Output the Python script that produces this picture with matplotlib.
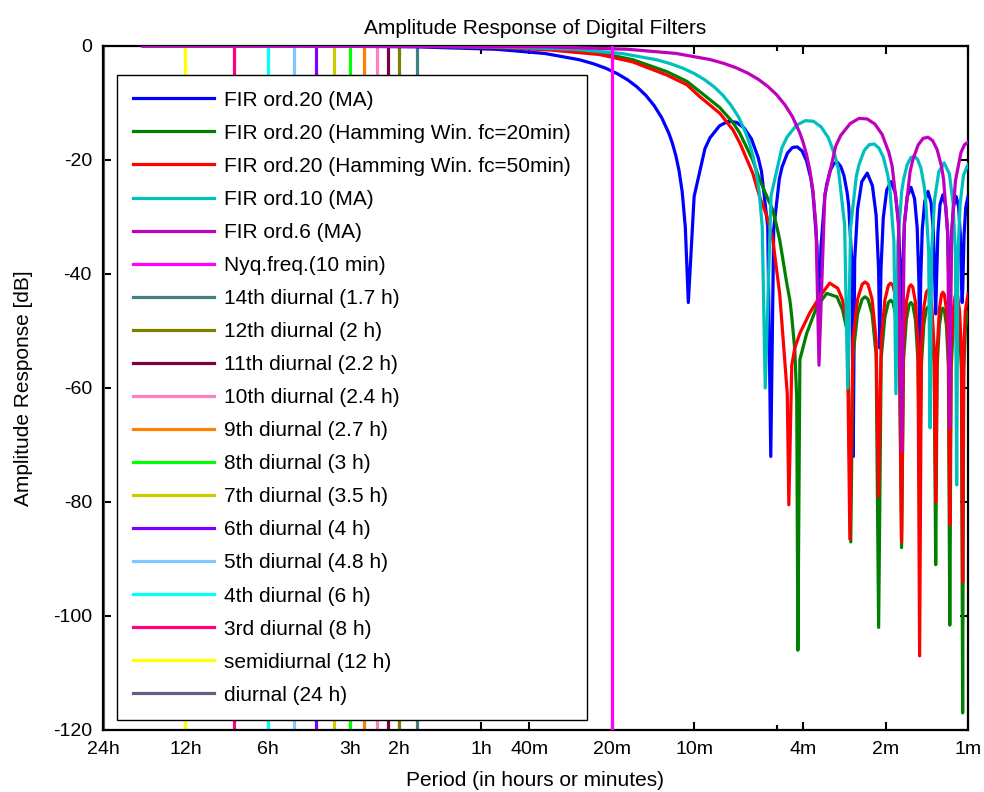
import matplotlib
matplotlib.use("Agg")
import matplotlib.pyplot as plt

plt.rcParams['font.family'] = ['Liberation Sans', 'DejaVu Sans']
plt.rcParams['axes.unicode_minus'] = False

# periods in minutes, response in dB
ma20_period = [1028, 210, 105, 52.5, 35, 26.25, 23.333, 21, 19.091, 17.5, 16.154, 15, 14.0,
               13.125, 12.353, 12.0, 11.667, 11.351, 11.053, 10.769, 10.5,
               10.0, 9.130, 8.75, 8.077, 7.5, 7.0, 6.5625, 6.176, 5.833, 5.676, 5.385, 5.25,
               5.122, 4.884, 4.773, 4.565, 4.375, 4.2, 4.038, 3.889, 3.75, 3.684, 3.559, 3.5,
               3.443, 3.333, 3.281, 3.182, 3.088, 3.0, 2.917, 2.838, 2.763, 2.727, 2.658, 2.625,
               2.593, 2.530, 2.442, 2.333, 2.234, 2.165, 2.121, 2.1,
               2.079, 2.039, 1.981, 1.909, 1.842, 1.795, 1.765, 1.75,
               1.736, 1.707, 1.667, 1.615, 1.567, 1.533, 1.511, 1.5,
               1.489, 1.469, 1.438, 1.4, 1.364, 1.338, 1.321, 1.3125,
               1.304, 1.288, 1.265, 1.235, 1.207, 1.186, 1.173, 1.1667,
               1.160, 1.148, 1.129, 1.105, 1.082, 1.066, 1.055, 1.05,
               1.045, 1.034, 1.019, 1.0]
ma20_db = [0, -0.04, -0.14, -0.58, -1.32, -2.41, -3.11, -3.91, -4.85, -5.93, -7.19, -8.67, -10.44,
           -12.6, -15.37, -17.1, -19.2, -21.87, -25.6, -31.8, -45,
           -26.4, -18.0, -16.1, -14.0, -13.2, -13.4, -14.4, -16.3, -19.6, -22.0, -31.7, -72,
           -32.1, -23.3, -21.2, -18.8, -17.8, -17.7, -18.4, -20.1, -23.2, -25.6, -35.1, -50,
           -35.4, -26.4, -24.3, -21.8, -20.6, -20.4, -21.1, -22.7, -25.7, -28.0, -37.5, -72,
           -37.6, -28.6, -23.8, -22.3, -24.5, -29.7, -39.1, -53,
           -39.3, -30.2, -25.3, -23.8, -25.8, -31.0, -40.4, -50,
           -40.5, -31.3, -26.4, -24.8, -26.8, -31.9, -41.3, -55,
           -41.3, -32.2, -27.2, -25.5, -27.5, -32.6, -41.9, -47,
           -41.9, -32.8, -27.8, -26.1, -28.0, -33.0, -42.3, -50,
           -42.3, -33.1, -28.1, -26.4, -28.2, -33.3, -42.5, -45,
           -42.5, -33.3, -28.3, -26.4]

ham20_period = [1028, 200, 78, 51.2, 33.6, 22.1, 16.74, 12.58, 10.63, 9.53, 8.06, 7.22, 6.81,
                6.11, 5.76, 5.16, 4.99, 4.87, 4.59, 4.47, 4.40, 4.29, 4.22, 4.18,
                4.11, 3.88, 3.57, 3.28, 3.01, 2.87, 2.75, 2.68,
                2.63, 2.53, 2.434, 2.375, 2.319, 2.24, 2.165, 2.12,
                2.075, 2.012, 1.953, 1.916, 1.880, 1.828, 1.779, 1.748,
                1.720, 1.679, 1.640, 1.616, 1.591, 1.556, 1.523, 1.502,
                1.480, 1.449, 1.4196, 1.401, 1.382, 1.355, 1.329, 1.312,
                1.296, 1.272, 1.2494, 1.235, 1.2201, 1.199, 1.179, 1.1655,
                1.1523, 1.133, 1.1146, 1.1025, 1.0908, 1.0734, 1.0569, 1.046,
                1.0365, 1.0225, 1.0]
ham20_db = [0, -0.02, -0.08, -0.2, -0.5, -1.2, -2.4, -4.5, -6.2, -8.0, -10.8, -13.4, -15.3,
            -20.0, -23.5, -28.8, -31.7, -34.0, -41.6, -44.6, -47.5, -53.3, -62, -106,
            -55, -50.4, -45.8, -43.4, -44.0, -46.3, -50.4, -87,
            -54.2, -47.0, -44.4, -44.0, -44.4, -47.0, -54.2, -102,
            -54.8, -47.6, -45.0, -44.6, -45.0, -47.6, -54.8, -88,
            -55.2, -48.0, -45.4, -45.0, -45.4, -48.0, -55.2, -75,
            -56.0, -48.8, -46.2, -45.8, -46.2, -48.8, -56.0, -91,
            -56.2, -49.0, -46.4, -46.0, -46.4, -49.0, -56.2, -101.6,
            -56.7, -49.5, -46.9, -46.5, -46.9, -49.5, -56.7, -117,
            -56.9, -49.7, -46.7]

ham50_period = [1028, 200, 78, 51.2, 33.6, 22.1, 16.74, 12.58, 10.63, 9.53, 8.06, 7.22, 6.81,
                6.11, 5.76, 5.43, 5.16, 4.87, 4.57, 4.51,
                4.40, 4.29, 4.11, 3.78, 3.48, 3.20, 2.99, 2.87, 2.76, 2.70,
                2.63, 2.53, 2.434, 2.375, 2.319, 2.24, 2.165, 2.12,
                2.075, 2.012, 1.953, 1.916, 1.880, 1.828, 1.779, 1.748,
                1.720, 1.679, 1.640, 1.616, 1.591, 1.556, 1.523, 1.502,
                1.480, 1.449, 1.4196, 1.401, 1.382, 1.355, 1.329, 1.312,
                1.296, 1.272, 1.2494, 1.235, 1.2201, 1.199, 1.179, 1.1655,
                1.1523, 1.133, 1.1146, 1.1025, 1.0908, 1.0734, 1.0569, 1.046,
                1.0365, 1.0225, 1.0]
ham50_db = [0, -0.03, -0.12, -0.3, -0.7, -1.5, -2.8, -5.1, -6.8, -8.9, -11.8, -14.7, -17.0,
            -22.3, -26.5, -29.8, -34.0, -43.5, -61, -80.5,
            -56, -53, -50.4, -46.8, -44.0, -41.6, -42.5, -44.6, -49, -86.5,
            -51.6, -44.4, -41.8, -41.4, -41.8, -44.4, -51.6, -79,
            -51.8, -44.6, -42.0, -41.6, -42.0, -44.6, -51.8, -87,
            -52.1, -44.9, -42.3, -41.9, -42.3, -44.9, -52.1, -107,
            -53.0, -45.8, -43.2, -42.8, -43.2, -45.8, -53.0, -80,
            -53.4, -46.2, -43.6, -43.2, -43.6, -46.2, -53.4, -84,
            -53.7, -46.5, -43.9, -43.5, -43.9, -46.5, -53.7, -94,
            -53.7, -46.5, -43.5]

ma10_period = [1028, 110, 55, 27.5, 18.33, 13.75, 12.222, 11.0, 10.0, 9.167, 8.462, 7.857, 7.333,
               6.875, 6.471, 6.286, 6.111, 5.946, 5.789, 5.641, 5.5,
               5.238, 4.783, 4.583, 4.231, 3.929, 3.667, 3.4375, 3.235, 3.056, 2.973, 2.821, 2.75,
               2.683, 2.558, 2.5, 2.391, 2.2917, 2.2, 2.1154, 2.037, 1.9643, 1.930, 1.864, 1.833,
               1.803, 1.746, 1.71875, 1.667, 1.6176, 1.571, 1.5278, 1.486, 1.4474, 1.429, 1.392, 1.375,
               1.358, 1.325, 1.279, 1.222, 1.170, 1.134, 1.111, 1.1,
               1.089, 1.068, 1.038, 1.0]
ma10_db = [0, -0.04, -0.14, -0.57, -1.32, -2.40, -3.09, -3.89, -4.82, -5.90, -7.15, -8.63, -10.39,
           -12.5, -15.31, -17.04, -19.1, -21.8, -25.5, -31.7, -60,
           -26.3, -17.9, -16.0, -13.9, -13.1, -13.2, -14.2, -16.1, -19.3, -21.7, -31.4, -60,
           -31.8, -22.9, -20.8, -18.3, -17.3, -17.2, -17.9, -19.5, -22.6, -24.9, -34.4, -61,
           -34.6, -25.5, -23.4, -20.8, -19.6, -19.3, -19.9, -21.4, -24.4, -26.7, -36.0, -67,
           -36.2, -27.0, -22.1, -20.5, -22.4, -27.5, -36.8, -77,
           -36.9, -27.6, -22.6, -20.8]

ma6_period = [1028, 70, 35, 17.5, 11.667, 8.75, 7.778, 7.0, 6.364, 5.833, 5.385, 5.0, 4.667,
              4.375, 4.118, 4.0, 3.889, 3.784, 3.684, 3.590, 3.5,
              3.333, 3.043, 2.9167, 2.692, 2.5, 2.333, 2.1875, 2.059, 1.9444, 1.892, 1.795, 1.75,
              1.707, 1.628, 1.5909, 1.522, 1.4583, 1.4, 1.3462, 1.296, 1.25, 1.228, 1.186, 1.1667,
              1.148, 1.111, 1.061, 1.0294, 1.0]
ma6_db = [0, -0.04, -0.14, -0.57, -1.30, -2.37, -3.06, -3.85, -4.77, -5.84, -7.08, -8.54, -10.29,
          -12.4, -15.18, -16.9, -19.0, -21.65, -25.4, -31.55, -56,
          -26.1, -17.6, -15.7, -13.6, -12.7, -12.8, -13.7, -15.5, -18.7, -21.1, -30.7, -71,
          -31.0, -22.1, -20.0, -17.4, -16.2, -16.0, -16.6, -18.2, -21.1, -23.4, -32.7, -67,
          -32.8, -23.6, -18.7, -17.3, -16.9]

filter_labels = ["FIR ord.20 (MA)", "FIR ord.20 (Hamming Win. fc=20min)",
                 "FIR ord.20 (Hamming Win. fc=50min)", "FIR ord.10 (MA)", "FIR ord.6 (MA)"]
filter_colors = ["#0000ff", "#008000", "#ff0000", "#00bfbf", "#bf00bf"]

nyq_period = 20  # minutes
tide_labels = ["14th diurnal (1.7 h)", "12th diurnal (2 h)", "11th diurnal (2.2 h)",
               "10th diurnal (2.4 h)", "9th diurnal (2.7 h)", "8th diurnal (3 h)",
               "7th diurnal (3.5 h)", "6th diurnal (4 h)", "5th diurnal (4.8 h)",
               "4th diurnal (6 h)", "3rd diurnal (8 h)", "semidiurnal (12 h)", "diurnal (24 h)"]
tide_hours = [1.714, 2, 2.182, 2.4, 2.667, 3, 3.429, 4, 4.8, 6, 8, 12, 24]
tide_colors = ["#408080", "#808000", "#800040", "#ff80c0", "#ff8000", "#00ff00",
               "#cccc00", "#8000ff", "#80c8ff", "#00ffff", "#ff0080", "#ffff00", "#606080"]

tick_minutes = [1440, 720, 360, 180, 120, 60, 40, 20, 10, 4, 2, 1]
tick_text = ["24h", "12h", "6h", "3h", "2h", "1h", "40m", "20m", "10m", "4m", "2m", "1m"]
minor_minutes = [5]
ytick_vals = [0, -20, -40, -60, -80, -100, -120]

fig = plt.figure(figsize=(9.84, 7.92), dpi=100)
ax = fig.add_axes([103 / 984, 1 - 730 / 792, 865 / 984, 684 / 792])

lw = 2.3
series = [(ma20_period, ma20_db), (ham20_period, ham20_db), (ham50_period, ham50_db),
          (ma10_period, ma10_db), (ma6_period, ma6_db)]
for (per, db), lab, col in zip(series, filter_labels, filter_colors):
    ax.plot(per, db, color=col, lw=lw, label=lab, zorder=3)

ax.axvline(nyq_period, color="#ff00ff", lw=lw, label="Nyq.freq.(10 min)", zorder=4)
for h, lab, col in zip(tide_hours, tide_labels, tide_colors):
    ax.axvline(h * 60, color=col, lw=lw, label=lab, zorder=2)

ax.set_xscale("log")
ax.set_xlim(1440, 1)
ax.set_ylim(-120, 0)
ax.set_xticks(tick_minutes)
ax.set_xticklabels(tick_text)
ax.set_xticks(minor_minutes, minor=True)
ax.set_xticklabels([""] * len(minor_minutes), minor=True)
ax.set_yticks(ytick_vals)
ax.set_yticklabels([str(v) for v in ytick_vals])
ax.tick_params(direction="in", length=6, width=1.5, top=True, right=True,
               labelsize=14, pad=8)
ax.tick_params(which="minor", direction="in", length=3.5, width=1.5, top=True)
for s in ax.spines.values():
    s.set_linewidth(1.6)

ax.set_title("Amplitude Response of Digital Filters", fontsize=15, pad=9)
ax.set_xlabel("Period (in hours or minutes)", fontsize=15, labelpad=9)
ax.set_ylabel("Amplitude Response [dB]", fontsize=15, labelpad=14)

leg = ax.legend(loc="upper left", bbox_to_anchor=(14 / 865, 655 / 684), borderaxespad=0,
                fontsize=15, handlelength=3.9, handletextpad=0.5, labelspacing=0.675,
                borderpad=0.75, fancybox=False, framealpha=1, edgecolor="black")
leg.get_frame().set_linewidth(1.0)
leg.set_zorder(5)

fig.savefig("out.png", dpi=100)
